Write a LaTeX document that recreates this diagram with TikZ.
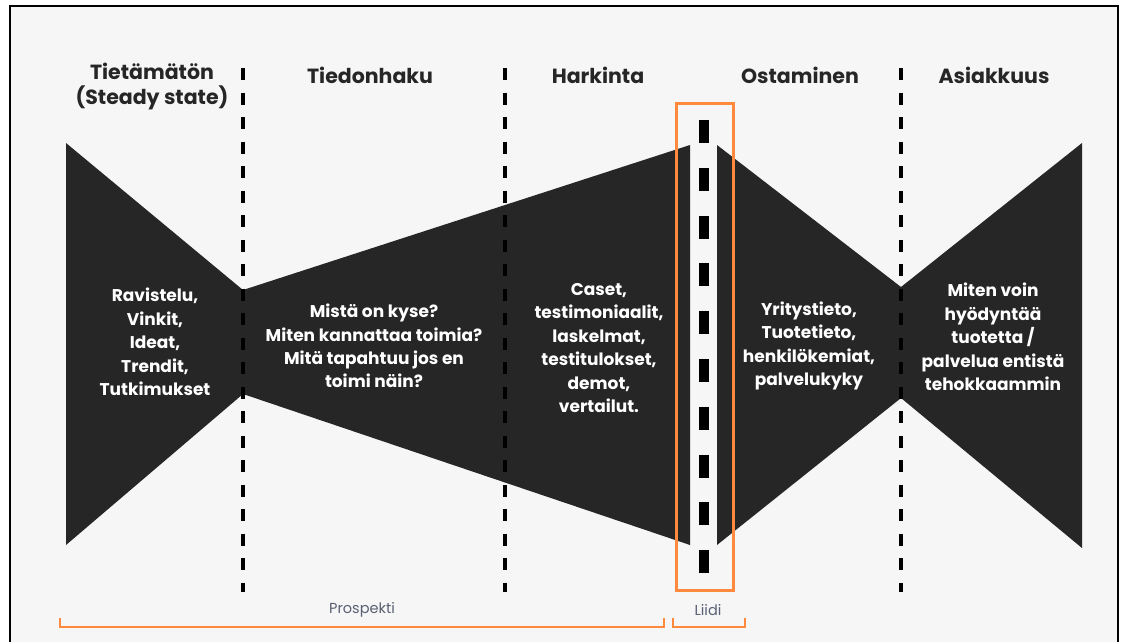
\documentclass[tikz,border=0pt]{standalone}
\usepackage{fontspec}
\setmainfont{Poppins}
\usepackage{xcolor}
\definecolor{funnel}{HTML}{262626}
\definecolor{paper}{HTML}{F6F6F6}
\definecolor{liidi}{HTML}{FF8A3D}
\definecolor{caption}{HTML}{5A5F73}

\begin{document}
\begin{tikzpicture}[x=1pt, y=-1pt]
\tikzset{phase/.style = {font=\fontsize{20.5}{25}\selectfont\bfseries, text=black!85, align=center, inner sep=0}}
\tikzset{body/.style = {font=\fontsize{17}{23.4}\selectfont\bfseries, text=white, align=center, inner sep=0}}
\tikzset{divider/.style = {black, line width=4pt, dash pattern=on 12pt off 12.5pt}}
\tikzset{bracket/.style = {liidi, line width=1.5pt}}
\tikzset{tag/.style = {font=\fontsize{14.5}{16}\selectfont, text=caption, inner sep=0}}

% paper and frame
\fill[white] (0,0) rectangle (1125,641);
\useasboundingbox (0,0) rectangle (1125,641);
\draw[black, line width=2pt, fill=paper] (10,6) rectangle (1118,660);

% funnel up to the lead, then the widening part after it
\fill[funnel] (66,143) -- (243,290) -- (690,145) -- (690,545) -- (243,394) -- (66,545) -- cycle;
\fill[funnel] (717,145) -- (901,287) -- (1082,143) -- (1082,548) -- (901,398) -- (717,545) -- cycle;

% phase dividers
\coordinate (d1t) at (243,68);  \coordinate (d1b) at (243,592);
\coordinate (d2t) at (505,68);  \coordinate (d2b) at (505,592);
\coordinate (d3t) at (901,68);  \coordinate (d3b) at (901,592);
\draw[divider] (d1t) -- (d1b);
\draw[divider] (d2t) -- (d2b);
\draw[divider] (d3t) -- (d3b);

% the lead line with its box
\coordinate (lt) at (704,120);
\coordinate (lb) at (704,590);
\draw[black, line width=10pt, dash pattern=on 23pt off 24.8pt] (lt) -- (lb);
\draw[liidi, line width=3pt] (676,103) rectangle (733,590);

% phase titles
\node[phase] (tietamaton) at (152,87) {Tietämätön\\(Steady state)};
\node[phase] (tiedonhaku) at (370,75) {Tiedonhaku};
\node[phase] (harkinta) at (598,75) {Harkinta};
\node[phase] (ostaminen) at (800,75) {Ostaminen};
\node[phase] (asiakkuus) at (994,75) {Asiakkuus};

% contents of each phase
\node[body] (b1) at (155,342) {Ravistelu,\\Vinkit,\\Ideat,\\Trendit,\\Tutkimukset};
\node[body] (b2) at (374,346) {Mistä on kyse?\\Miten kannattaa toimia?\\Mitä tapahtuu jos en\\toimi näin?};
\node[body] (b3) at (599,348) {Caset,\\testimoniaalit,\\laskelmat,\\testitulokset,\\demot,\\vertailut.};
\node[body] (b4) at (809,346) {Yritystieto,\\Tuotetieto,\\henkilökemiat,\\palvelukyky};
\node[body] (b5) at (993,337) {Miten voin\\hyödyntää\\tuotetta /\\palvelua entistä\\tehokkaammin};

% brackets underneath
\coordinate (p1) at (60,618);  \coordinate (p2) at (664,618);
\coordinate (q1) at (673,618); \coordinate (q2) at (745,618);
\draw[bracket] (p1) -- ++(0,9) -| (p2);
\draw[bracket] (q1) -- ++(0,9) -| (q2);
\node[tag] (prospekti) at (362,610) {Prospekti};
\node[tag] (liidilabel) at (708,610) {Liidi};
\end{tikzpicture}
\end{document}
